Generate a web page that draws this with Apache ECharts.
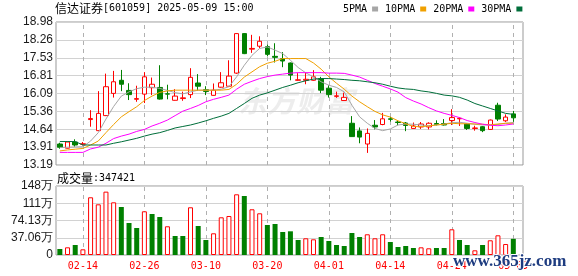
<!DOCTYPE html>
<html>
<head>
<meta charset="utf-8">
<script src="https://cdn.jsdelivr.net/npm/echarts@6/dist/echarts.min.js"></script>
<style>
  html, body { margin: 0; padding: 0; background: #fff; }
  #kline { width: 578px; height: 276px; }
</style>
</head>
<body>
<div id="kline"></div>
<script>
// 交易日 -----------------------------------------
let dates = [
  '02-11','02-12','02-13','02-14','02-17','02-18','02-19','02-20','02-21','02-24','02-25','02-26','02-27','02-28',
  '03-03','03-04','03-05','03-06','03-07','03-10','03-11','03-12','03-13','03-14','03-17','03-18','03-19','03-20','03-21',
  '03-24','03-25','03-26','03-27','03-28','03-31',
  '04-01','04-02','04-03','04-07','04-08','04-09','04-10','04-11','04-14','04-15','04-16','04-17','04-18','04-21','04-22',
  '04-23','04-24','04-25','04-28','04-29','04-30',
  '05-06','05-07','05-08','05-09'
];

// 开, 收, 低, 高
let ohlc = [
  [14.04,13.91,13.85,14.09],[13.87,14.12,13.86,14.15],[14.12,14.00,13.93,14.23],[14.03,14.05,13.98,14.12],
  [15.03,15.07,14.74,15.41],[14.58,15.28,14.57,16.18],[15.19,16.36,15.17,16.89],[16.09,16.56,15.92,17.00],
  [16.62,16.46,16.18,17.04],[16.21,16.04,15.82,16.50],[15.85,15.88,15.75,16.40],[16.06,16.76,15.70,16.95],
  [16.32,16.46,16.02,16.73],[16.33,15.86,15.84,17.23],[16.07,16.06,15.85,16.44],[15.81,15.98,15.80,16.26],
  [15.88,15.91,15.79,16.16],[16.04,16.74,15.90,17.11],[16.51,16.38,16.19,16.87],[16.24,16.17,16.02,16.38],
  [16.01,16.22,16.00,16.49],[16.34,16.52,16.32,16.95],[16.38,16.79,16.36,17.43],[16.91,18.51,16.88,18.53],
  [18.51,17.70,17.68,18.53],[17.88,17.91,17.73,18.46],[18.00,18.20,17.92,18.40],[17.98,17.67,17.59,18.06],
  [17.59,17.55,17.34,18.12],[17.49,17.40,17.15,17.76],[17.32,16.83,16.62,17.34],[16.62,16.64,16.60,16.91],
  [16.62,16.66,16.46,16.93],[16.62,16.76,16.60,17.03],[16.69,16.22,16.10,16.76],[16.30,16.04,15.92,16.42],
  [15.97,15.99,15.91,16.16],[15.80,15.93,15.79,16.12],[14.88,14.34,14.33,15.17],[14.57,14.32,14.07,14.71],
  [14.04,14.47,13.68,14.67],[14.80,14.73,14.63,15.01],[14.83,15.06,14.80,15.30],[15.06,15.04,14.95,15.14],
  [14.93,14.91,14.80,15.00],[14.89,14.79,14.56,14.93],[14.67,14.77,14.66,14.91],[14.73,14.85,14.65,14.93],
  [14.73,14.88,14.63,14.92],[14.87,14.83,14.79,15.00],[14.87,14.81,14.79,15.05],[14.99,15.11,14.81,15.45],
  [15.06,15.08,14.77,15.12],[14.85,14.67,14.61,14.88],[14.67,14.69,14.58,14.78],[14.74,14.58,14.52,14.77],
  [14.63,15.01,14.61,15.03],[15.61,15.05,14.97,15.71],[14.98,15.13,14.93,15.24],[15.26,15.10,14.94,15.38]
];

// 成交量
let volumes = [
  129000,165000,215000,122000,1240000,1089000,1361000,1132000,1031000,688000,
  580000,939000,881000,816000,617000,408000,408000,1025000,623000,322000,
  466000,810000,838000,1304000,1268000,982000,896000,645000,666000,494000,
  509000,322000,359000,337000,387000,301000,215000,193000,473000,387000,
  445000,359000,445000,279000,172000,193000,150000,165000,144000,150000,
  150000,552000,322000,215000,101000,215000,316000,423000,236000,347421
];
// 涨跌 (1 涨, -1 跌)
let volDir = [
  -1,1,-1,1,1,1,1,1,-1,-1,
  -1,1,-1,-1,1,-1,-1,1,-1,-1,
  1,1,1,1,-1,1,1,-1,-1,-1,
  -1,-1,1,1,-1,-1,-1,-1,-1,-1,
  1,1,1,-1,-1,-1,-1,1,1,-1,
  -1,1,-1,-1,1,-1,1,1,1,-1
];

// 均线
let ma5 = [
  13.90,13.91,13.92,13.93,14.16,14.50,15.05,15.56,15.98,16.15,
  16.28,16.34,16.34,16.29,16.21,16.12,16.07,16.15,16.22,16.22,
  16.22,16.26,16.36,16.76,17.23,17.63,17.91,17.97,17.84,17.70,
  17.43,17.14,16.92,16.76,16.56,16.42,16.33,16.15,15.61,15.14,
  14.88,14.67,14.58,14.65,14.81,14.85,14.84,14.81,14.78,14.81,
  14.85,14.90,14.92,14.88,14.84,14.81,14.81,14.83,14.88,14.91
];
let ma10 = [
  13.76,13.80,13.83,13.86,14.00,14.16,14.50,14.83,15.14,15.35,
  15.55,15.80,15.98,16.13,16.19,16.22,16.22,16.22,16.22,16.22,
  16.22,16.22,16.25,16.46,16.75,16.96,17.17,17.31,17.39,17.50,
  17.50,17.50,17.50,17.32,17.07,16.76,16.50,16.26,15.98,15.75,
  15.55,15.36,15.22,15.13,14.98,14.86,14.75,14.74,14.77,14.81,
  14.84,14.88,14.86,14.86,14.85,14.84,14.82,14.85,14.88,14.88
];
let ma20 = [
  13.70,13.70,13.70,13.70,13.84,13.91,14.07,14.26,14.36,14.44,
  14.55,14.63,14.77,14.88,15.01,15.19,15.37,15.48,15.60,15.75,
  15.85,15.93,16.02,16.26,16.46,16.58,16.69,16.77,16.83,16.87,
  16.91,16.93,16.93,16.93,16.93,16.91,16.91,16.90,16.83,16.75,
  16.62,16.49,16.38,16.27,16.14,15.92,15.78,15.66,15.51,15.38,
  15.28,15.20,15.11,14.99,14.91,14.84,14.80,14.78,14.81,14.85
];
let ma30 = [
  14.14,14.14,14.14,14.00,14.00,14.00,14.00,14.07,14.13,14.20,
  14.27,14.36,14.44,14.50,14.59,14.69,14.75,14.81,14.89,14.98,
  15.08,15.17,15.28,15.48,15.68,15.89,16.02,16.11,16.22,16.33,
  16.42,16.52,16.60,16.67,16.69,16.69,16.67,16.65,16.62,16.60,
  16.56,16.52,16.46,16.38,16.31,16.27,16.25,16.19,16.15,16.09,
  16.02,15.99,15.93,15.82,15.68,15.58,15.48,15.38,15.28,15.24
];

// 刻度
let priceTicks = [13.19, 13.91375, 14.6375, 15.36125, 16.085, 16.80875, 17.5325, 18.25625, 18.98];
let volTicks = [0, 370625, 741250, 1111875, 1482500];
let labelIdx = [3, 11, 19, 27, 35, 43, 51, 59];

let upColor = '#ff0000';
let downColor = '#008000';
let gridLine = '#d2d2d2';
let monoFont = 'DejaVu Sans Mono';
let cjkFont = 'Noto Sans CJK SC';

let fmtPrice = function (v) {
  return (Math.round(v * 100 + 1e-6) / 100).toFixed(2);
};
let fmtVol = function (v) {
  if (v === 0) return '0';
  let w = v / 10000;
  return (w >= 100 ? Math.round(w) : w.toFixed(2)) + '万';
};
let fmtDate = function (v) {
  return dates[v] || '';
};

// 日期竖虚线: custom 系列, 从坐标轴最小值画到最大值
let dateLineSeries = function (grid, yMin, yMax) {
  return {
    type: 'custom', xAxisIndex: grid, yAxisIndex: grid, z: 1, silent: true,
    data: labelIdx.map(i => [i]),
    renderItem: function (params, api) {
      let x = api.value(0);
      let p1 = api.coord([x, yMin]);
      let p2 = api.coord([x, yMax]);
      let px = Math.round(p1[0]) + 0.5;
      return {
        type: 'line',
        shape: { x1: px, y1: p1[1], x2: px, y2: p2[1] },
        style: { stroke: '#b0b0b0', lineWidth: 1, lineDash: [4, 4] }
      };
    }
  };
};

let xAxisBase = function (grid, withLabel) {
  return {
    type: 'value', gridIndex: grid, min: -0.5, max: 60.26,
    axisLine: { show: false },
    axisTick: { show: false, customValues: labelIdx },
    axisLabel: {
      show: withLabel, customValues: labelIdx,
      formatter: fmtDate,
      color: upColor, fontFamily: monoFont, fontSize: 10, margin: 6
    },
    splitLine: { show: false }
  };
};

let chart = echarts.init(document.getElementById('kline'));
let option = {
  animation: false,
  backgroundColor: '#fff',
  title: {
    text: '{cn|信达证券}{num|[601059] 2025-05-09 15:00}',
    left: 55, top: 2, padding: 0,
    textStyle: {
      fontWeight: 'normal',
      rich: {
        cn: { fontFamily: cjkFont, fontSize: 12, fontWeight: 'normal', color: '#000' },
        num: { fontFamily: monoFont, fontSize: 10, fontWeight: 'normal', color: '#000' }
      }
    }
  },
  legend: {
    data: ['5PMA', '10PMA', '20PMA', '30PMA'],
    left: 343, top: 4, padding: 0,
    icon: 'rect', itemWidth: 6, itemHeight: 5, itemGap: 7, align: 'right',
    selectedMode: false,
    textStyle: { fontFamily: monoFont, fontSize: 10, color: '#000' }
  },
  grid: [
    { left: 56, top: 22, width: 467, height: 143, show: true, borderColor: '#999', borderWidth: 1 },
    { left: 56, top: 186, width: 467, height: 69, show: true, borderColor: '#999', borderWidth: 1 }
  ],
  xAxis: [xAxisBase(0, false), xAxisBase(1, true)],
  yAxis: [
    {
      type: 'value', gridIndex: 0, min: 13.19, max: 18.98,
      axisLine: { show: false },
      axisTick: { show: false, customValues: priceTicks },
      axisLabel: { customValues: priceTicks, formatter: fmtPrice, color: '#1a1a1a', fontFamily: 'Liberation Sans', fontSize: 12, margin: 3 },
      splitLine: { lineStyle: { color: gridLine, width: 1 } }
    },
    {
      type: 'value', gridIndex: 1, min: 0, max: 1482500,
      axisLine: { show: false },
      axisTick: { show: false, customValues: volTicks },
      axisLabel: { customValues: volTicks, formatter: fmtVol, color: '#1a1a1a', fontFamily: 'Liberation Sans', fontSize: 12, margin: 3 },
      splitLine: { lineStyle: { color: gridLine, width: 1 } }
    }
  ],
  graphic: [
    {
      type: 'text', x: 238, y: 101, z: 0,
      style: { text: '东方财富', font: 'italic bold 29px "Noto Sans CJK SC"', fill: '#ededed', verticalAlign: 'middle' }
    },
    {
      type: 'text', x: 57, y: 178,
      style: {
        text: '{a|成交量}{b|:' + volumes[volumes.length - 1] + '}',
        verticalAlign: 'middle',
        rich: {
          a: { fontFamily: cjkFont, fontSize: 12, fill: '#000' },
          b: { fontFamily: monoFont, fontSize: 10, fill: '#000' }
        }
      }
    },
    {
      type: 'text', x: 453, y: 262, z: 100,
      style: { text: 'www.365jz.com', font: 'bold 17px "Liberation Serif"', fill: '#1e3c80', stroke: '#fff', lineWidth: 2, verticalAlign: 'middle' }
    }
  ],
  series: [
    dateLineSeries(0, 13.19, 18.98),
    dateLineSeries(1, 0, 1482500),
    {
      name: 'K', type: 'candlestick', xAxisIndex: 0, yAxisIndex: 0,
      barWidth: 5,
      data: ohlc.map((d, i) => [i, d[0], d[1], d[2], d[3]]),
      itemStyle: { color: '#fff', color0: downColor, borderColor: upColor, borderColor0: downColor, borderWidth: 1 }
    },
    { name: '5PMA', type: 'line', xAxisIndex: 0, yAxisIndex: 0, symbol: 'none', data: ma5.map((v, i) => [i, v]), lineStyle: { width: 1, color: '#a6a6a6' }, itemStyle: { color: '#a6a6a6' } },
    { name: '10PMA', type: 'line', xAxisIndex: 0, yAxisIndex: 0, symbol: 'none', data: ma10.map((v, i) => [i, v]), lineStyle: { width: 1, color: '#f0a000' }, itemStyle: { color: '#f0a000' } },
    { name: '20PMA', type: 'line', xAxisIndex: 0, yAxisIndex: 0, symbol: 'none', data: ma20.map((v, i) => [i, v]), lineStyle: { width: 1, color: '#ff00ff' }, itemStyle: { color: '#ff00ff' } },
    { name: '30PMA', type: 'line', xAxisIndex: 0, yAxisIndex: 0, symbol: 'none', data: ma30.map((v, i) => [i, v]), lineStyle: { width: 1, color: '#006e3a' }, itemStyle: { color: '#006e3a' } },
    {
      name: 'VOL', type: 'bar', xAxisIndex: 1, yAxisIndex: 1, barWidth: 5,
      data: volumes.map((v, i) => ({
        value: [i, v],
        itemStyle: volDir[i] > 0
          ? { color: '#fff', borderColor: upColor, borderWidth: 1 }
          : { color: downColor, borderWidth: 0 }
      }))
    }
  ]
};
chart.setOption(option);
</script>
</body>
</html>
